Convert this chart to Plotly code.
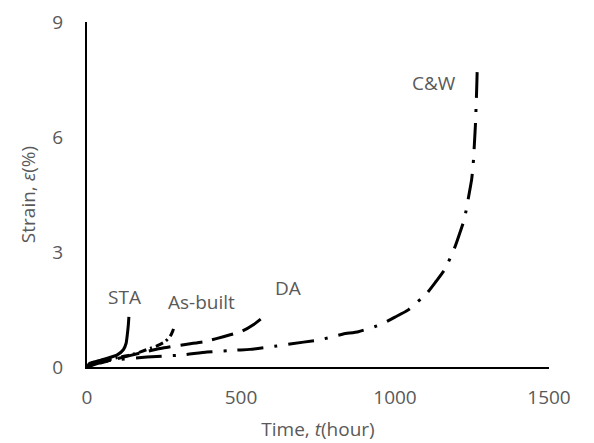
import plotly.graph_objects as go

# Data
sta_t = [0, 13, 45, 97, 118, 127, 131, 134, 136]
sta_s = [0, 0.10, 0.18, 0.31, 0.45, 0.62, 0.85, 1.08, 1.31]

asb_t = [0, 20, 60, 100, 140, 172, 200, 227, 253, 270, 279, 284]
asb_s = [0, 0.08, 0.17, 0.25, 0.31, 0.39, 0.47, 0.55, 0.66, 0.80, 0.95, 1.08]

da_t = [0, 40, 100, 170, 250, 330, 380, 420, 465, 505, 540, 570]
da_s = [0, 0.10, 0.22, 0.36, 0.50, 0.60, 0.66, 0.74, 0.84, 0.94, 1.10, 1.29]

cw_t = [0, 10, 84, 195, 302, 390, 487, 529, 617, 659, 747, 789, 832, 881,
        957, 1000, 1043, 1103, 1133, 1162, 1195, 1211, 1225, 1241, 1249,
        1254, 1261, 1265, 1267]
cw_s = [0, 0.10, 0.18, 0.26, 0.31, 0.39, 0.44, 0.46, 0.55, 0.60, 0.70, 0.77,
        0.86, 0.92, 1.12, 1.30, 1.49, 1.92, 2.23, 2.55, 3.14, 3.51, 3.85,
        4.53, 4.90, 5.31, 6.30, 7.20, 7.78]

labels = ["STA", "As-built", "DA", "C&W"]
label_t = [123, 373, 653, 1127]
label_s = [1.83, 1.70, 2.06, 7.41]

txt = "#595959"
FONT = "Open Sans"

fig = go.Figure()
series = [
    (sta_t, sta_s, "solid"),
    (asb_t, asb_s, "8px,4px,2px,4px"),
    (da_t, da_s, "22px,10px"),
    (cw_t, cw_s, "26px,11px,3px,11px"),
]
for (t, s, dash), name in zip(series, labels):
    fig.add_trace(go.Scatter(x=t, y=s, mode="lines", name=name,
                             line=dict(color="black", width=3, dash=dash,
                                       shape="spline", smoothing=0.5),
                             showlegend=False, hoverinfo="skip"))

for name, t, s in zip(labels, label_t, label_s):
    fig.add_annotation(x=t, y=s, text=name, showarrow=False,
                       font=dict(family=FONT, size=19, color=txt))

# page body has an 8px default margin, so the figure is sized to fit the window
fig.update_layout(
    width=586, height=435,
    margin=dict(l=79, r=45, t=14, b=76, autoexpand=False),
    paper_bgcolor="white", plot_bgcolor="white",
    font=dict(family=FONT, size=19, color=txt),
)
fig.update_xaxes(range=[0, 1500], tick0=0, dtick=500, showgrid=False,
                 zeroline=False, showline=True, linecolor="black", linewidth=2,
                 ticks="", ticklabelstandoff=12, automargin=False,
                 title=dict(text="Time, <i>t</i>(hour)", standoff=14,
                            font=dict(family=FONT, size=19, color=txt)),
                 tickfont=dict(family=FONT, size=19, color=txt))
fig.update_yaxes(range=[0, 9], tick0=0, dtick=3, showgrid=False,
                 zeroline=False, showline=True, linecolor="black", linewidth=2,
                 ticks="", ticklabelstandoff=18, automargin=False,
                 title=dict(text="Strain, <i>ε</i>(%)", standoff=12,
                            font=dict(family=FONT, size=19, color=txt)),
                 tickfont=dict(family=FONT, size=19, color=txt))

fig.write_html("out.html")
